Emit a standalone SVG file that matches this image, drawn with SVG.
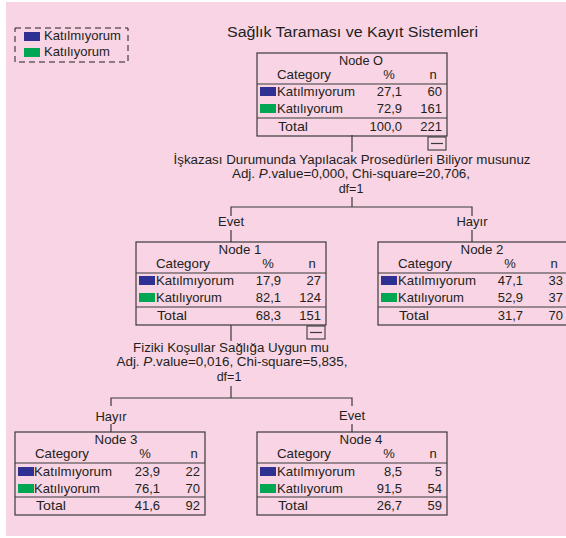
<svg xmlns="http://www.w3.org/2000/svg" width="566" height="538" viewBox="0 0 566 538">
<style>
text{font-family:"Liberation Sans",Arial,sans-serif;font-size:13px;fill:#231f20}
.title{font-size:14px}
.sp{font-size:12.5px}
.mid{text-anchor:middle}
.end{text-anchor:end}
.box{fill:none;stroke:#3a3a3a;stroke-width:1.2}
.sep{stroke:#3a3a3a;stroke-width:1.2}
.ln{stroke:#3a3a3a;stroke-width:1.2;fill:none}
.blue{fill:#2e3192}
.green{fill:#00a651}
.col{fill:#f8d4e4;stroke:#3a3a3a;stroke-width:1.1}
</style>
<defs>
<g id="collapse"><rect class="col" x="0" y="0" width="18" height="13"/><line class="sep" x1="3" y1="6.5" x2="15" y2="6.5"/></g>
</defs>
<rect x="0" y="0" width="566" height="538" fill="#ffffff"/>
<rect x="6" y="2" width="560" height="534" fill="#f8d4e4"/>

<g id="legend">
<rect x="15" y="28" width="113" height="34" fill="none" stroke="#231f20" stroke-width="1" stroke-dasharray="6,4"/>
<rect class="blue" x="24" y="32" width="16" height="9"/>
<text x="44" y="40" textLength="77" lengthAdjust="spacingAndGlyphs">Katılmıyorum</text>
<rect class="green" x="24" y="48" width="16" height="9"/>
<text x="44" y="56" textLength="66" lengthAdjust="spacingAndGlyphs">Katılıyorum</text>
</g>

<g id="title"><text class="title" x="227" y="37" textLength="251" lengthAdjust="spacingAndGlyphs">Sağlık Taraması ve Kayıt Sistemleri</text></g>

<g id="connectors">
<line class="ln" x1="352" y1="135" x2="352" y2="152"/>
<line class="ln" x1="352" y1="197" x2="352" y2="207"/>
<polyline class="ln" points="231,216 231,207 472,207 472,216"/>
<line class="ln" x1="231" y1="230" x2="231" y2="242"/>
<line class="ln" x1="472" y1="230" x2="472" y2="242"/>
<line class="ln" x1="231" y1="325" x2="231" y2="341"/>
<line class="ln" x1="231" y1="386" x2="231" y2="398"/>
<polyline class="ln" points="111,406 111,398 352,398 352,406"/>
<line class="ln" x1="111" y1="424" x2="111" y2="432"/>
<line class="ln" x1="352" y1="424" x2="352" y2="432"/>
</g>

<g id="split1">
<text class="mid sp" x="352" y="164" textLength="357" lengthAdjust="spacingAndGlyphs">İşkazası Durumunda Yapılacak Prosedürleri Biliyor musunuz</text>
<text class="mid sp" x="351" y="178" textLength="238" lengthAdjust="spacingAndGlyphs">Adj. <tspan font-style="italic">P</tspan>.value=0,000, Chi-square=20,706,</text>
<text class="mid sp" x="351" y="193">df=1</text>
<text class="mid" x="231" y="226">Evet</text>
<text class="mid" x="472" y="226">Hayır</text>
</g>

<g id="split2">
<text class="mid sp" x="231" y="352" textLength="196" lengthAdjust="spacingAndGlyphs">Fiziki Koşullar Sağlığa Uygun mu</text>
<text class="mid sp" x="232" y="366" textLength="231" lengthAdjust="spacingAndGlyphs">Adj. <tspan font-style="italic">P</tspan>.value=0,016, Chi-square=5,835,</text>
<text class="mid sp" x="229" y="381">df=1</text>
<text class="mid" x="111" y="421">Hayır</text>
<text class="mid" x="352" y="420">Evet</text>
</g>

<g id="node0" transform="translate(257,53)">
<rect class="box" x="0" y="0" width="190" height="83"/>
<text class="mid" x="104" y="12" textLength="44" lengthAdjust="spacingAndGlyphs">Node O</text>
<text x="20" y="26" textLength="54" lengthAdjust="spacingAndGlyphs">Category</text>
<text class="mid" x="132" y="26">%</text>
<text class="mid" x="176" y="26">n</text>
<line class="sep" x1="0" y1="31" x2="190" y2="31"/>
<rect class="blue" x="3" y="34" width="16" height="9"/>
<text x="20" y="43" textLength="78" lengthAdjust="spacingAndGlyphs">Katılmıyorum</text>
<text class="end" x="145" y="43">27,1</text>
<text class="end" x="185" y="43">60</text>
<rect class="green" x="3" y="51" width="16" height="9"/>
<text x="20" y="60" textLength="66" lengthAdjust="spacingAndGlyphs">Katılıyorum</text>
<text class="end" x="145" y="60">72,9</text>
<text class="end" x="185" y="60">161</text>
<line class="sep" x1="0" y1="65" x2="190" y2="65"/>
<text x="21" y="78" textLength="30" lengthAdjust="spacingAndGlyphs">Total</text>
<text class="end" x="145" y="78">100,0</text>
<text class="end" x="185" y="78">221</text>
<use href="#collapse" x="171" y="84"/>
</g>

<g id="node1" transform="translate(136,242)">
<rect class="box" x="0" y="0" width="190" height="83"/>
<text class="mid" x="104" y="12" textLength="43" lengthAdjust="spacingAndGlyphs">Node 1</text>
<text x="20" y="26" textLength="54" lengthAdjust="spacingAndGlyphs">Category</text>
<text class="mid" x="132" y="26">%</text>
<text class="mid" x="176" y="26">n</text>
<line class="sep" x1="0" y1="31" x2="190" y2="31"/>
<rect class="blue" x="3" y="34" width="16" height="9"/>
<text x="20" y="43" textLength="78" lengthAdjust="spacingAndGlyphs">Katılmıyorum</text>
<text class="end" x="145" y="43">17,9</text>
<text class="end" x="185" y="43">27</text>
<rect class="green" x="3" y="51" width="16" height="9"/>
<text x="20" y="60" textLength="66" lengthAdjust="spacingAndGlyphs">Katılıyorum</text>
<text class="end" x="145" y="60">82,1</text>
<text class="end" x="185" y="60">124</text>
<line class="sep" x1="0" y1="65" x2="190" y2="65"/>
<text x="21" y="78" textLength="30" lengthAdjust="spacingAndGlyphs">Total</text>
<text class="end" x="145" y="78">68,3</text>
<text class="end" x="185" y="78">151</text>
<use href="#collapse" x="171" y="84"/>
</g>

<g id="node2" transform="translate(378,242)">
<rect class="box" x="0" y="0" width="190" height="83"/>
<text class="mid" x="104" y="12" textLength="43" lengthAdjust="spacingAndGlyphs">Node 2</text>
<text x="20" y="26" textLength="54" lengthAdjust="spacingAndGlyphs">Category</text>
<text class="mid" x="132" y="26">%</text>
<text class="mid" x="176" y="26">n</text>
<line class="sep" x1="0" y1="31" x2="190" y2="31"/>
<rect class="blue" x="3" y="34" width="16" height="9"/>
<text x="20" y="43" textLength="78" lengthAdjust="spacingAndGlyphs">Katılmıyorum</text>
<text class="end" x="145" y="43">47,1</text>
<text class="end" x="185" y="43">33</text>
<rect class="green" x="3" y="51" width="16" height="9"/>
<text x="20" y="60" textLength="66" lengthAdjust="spacingAndGlyphs">Katılıyorum</text>
<text class="end" x="145" y="60">52,9</text>
<text class="end" x="185" y="60">37</text>
<line class="sep" x1="0" y1="65" x2="190" y2="65"/>
<text x="21" y="78" textLength="30" lengthAdjust="spacingAndGlyphs">Total</text>
<text class="end" x="145" y="78">31,7</text>
<text class="end" x="185" y="78">70</text>
</g>

<g id="node3" transform="translate(15,432)">
<rect class="box" x="0" y="0" width="190" height="83"/>
<text class="mid" x="101" y="12" textLength="43" lengthAdjust="spacingAndGlyphs">Node 3</text>
<text x="20" y="26" textLength="54" lengthAdjust="spacingAndGlyphs">Category</text>
<text class="mid" x="130" y="26">%</text>
<text class="mid" x="179" y="26">n</text>
<line class="sep" x1="0" y1="31" x2="190" y2="31"/>
<rect class="blue" x="3" y="35" width="16" height="9"/>
<text x="19" y="44" textLength="78" lengthAdjust="spacingAndGlyphs">Katılmıyorum</text>
<text class="end" x="145" y="44">23,9</text>
<text class="end" x="185" y="44">22</text>
<rect class="green" x="3" y="52" width="16" height="9"/>
<text x="19" y="61" textLength="66" lengthAdjust="spacingAndGlyphs">Katılıyorum</text>
<text class="end" x="145" y="61">76,1</text>
<text class="end" x="185" y="61">70</text>
<line class="sep" x1="0" y1="65" x2="190" y2="65"/>
<text x="21" y="78" textLength="30" lengthAdjust="spacingAndGlyphs">Total</text>
<text class="end" x="145" y="78">41,6</text>
<text class="end" x="185" y="78">92</text>
</g>

<g id="node4" transform="translate(257,432)">
<rect class="box" x="0" y="0" width="190" height="83"/>
<text class="mid" x="104" y="12" textLength="43" lengthAdjust="spacingAndGlyphs">Node 4</text>
<text x="20" y="26" textLength="54" lengthAdjust="spacingAndGlyphs">Category</text>
<text class="mid" x="132" y="26">%</text>
<text class="mid" x="176" y="26">n</text>
<line class="sep" x1="0" y1="31" x2="190" y2="31"/>
<rect class="blue" x="3" y="35" width="16" height="9"/>
<text x="20" y="44" textLength="78" lengthAdjust="spacingAndGlyphs">Katılmıyorum</text>
<text class="end" x="145" y="44">8,5</text>
<text class="end" x="185" y="44">5</text>
<rect class="green" x="3" y="52" width="16" height="9"/>
<text x="20" y="61" textLength="66" lengthAdjust="spacingAndGlyphs">Katılıyorum</text>
<text class="end" x="145" y="61">91,5</text>
<text class="end" x="185" y="61">54</text>
<line class="sep" x1="0" y1="65" x2="190" y2="65"/>
<text x="21" y="78" textLength="30" lengthAdjust="spacingAndGlyphs">Total</text>
<text class="end" x="145" y="78">26,7</text>
<text class="end" x="185" y="78">59</text>
</g>
</svg>
